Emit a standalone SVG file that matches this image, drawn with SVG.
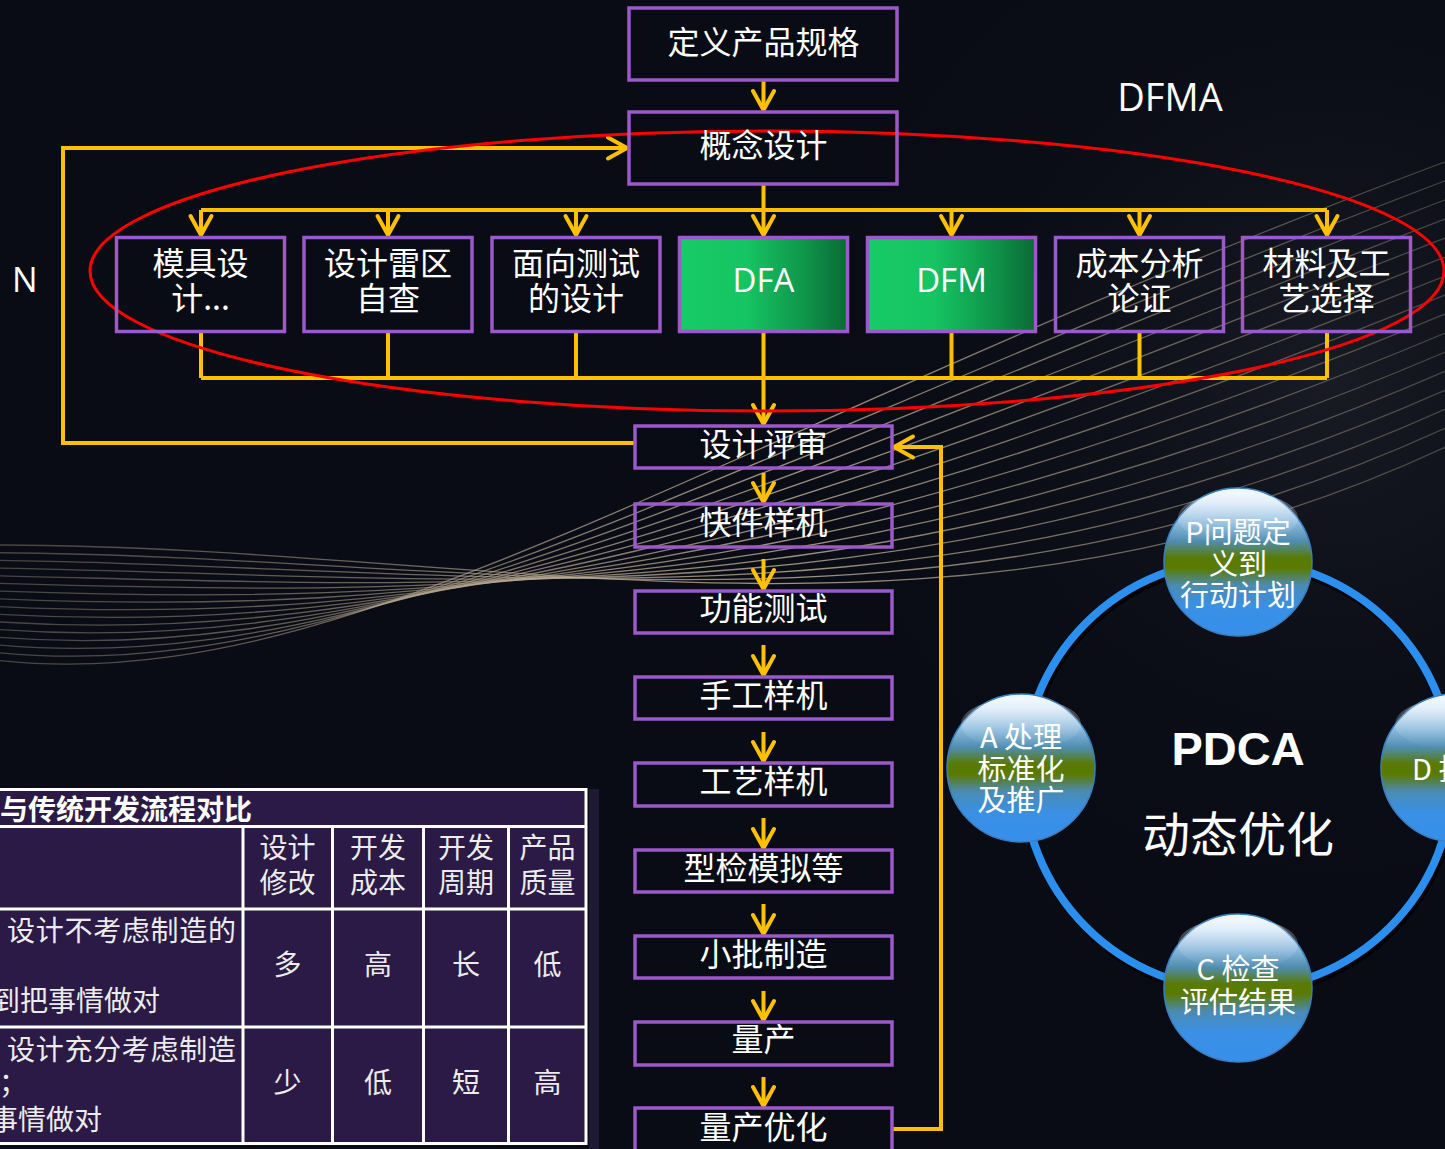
<svg xmlns="http://www.w3.org/2000/svg" width="1445" height="1149" viewBox="0 0 1445 1149">
  <defs>
    <style>
      .box { fill: none; stroke: #9b59c9; stroke-width: 3.5; }
      .t { font-family: 'Noto Sans CJK SC', sans-serif; font-size: 32px; fill: #ffffff; text-anchor: middle; }
      .lat { font-family: 'Open Sans', 'Noto Sans', sans-serif; font-size: 33px; fill: #ffffff; text-anchor: middle; }
      .c { fill: none; stroke: #ffc000; stroke-width: 4; stroke-linejoin: miter; }
      .ca { fill: none; stroke: #ffc000; stroke-width: 4; marker-end: url(#arr); }
      .wave { fill: none; stroke: url(#waveStroke); stroke-width: 1.3; }
      .tb { font-family: 'Noto Sans CJK SC', sans-serif; font-size: 28px; fill: #ececec; }
      .tbc { font-family: 'Noto Sans CJK SC', sans-serif; font-size: 28px; fill: #ececec; text-anchor: middle; }
      .grid { stroke: #ffffff; stroke-width: 3; fill: none; }
      .ball { stroke: #3a80c0; stroke-width: 1.5; fill: url(#ballFill); }
      .gloss { fill: url(#glossFill); }
      .bt { font-family: 'Noto Sans CJK SC', sans-serif; font-size: 29px; fill: #ffffff; text-anchor: middle; }
    </style>
    <marker id="arr" markerUnits="userSpaceOnUse" viewBox="-24 -14 28 28" markerWidth="28" markerHeight="28" refX="0" refY="0" orient="auto">
      <path d="M -19 -10.5 L 0 0 L -19 10.5" fill="none" stroke="#ffc000" stroke-width="4" stroke-linejoin="round" stroke-linecap="round"/>
    </marker>
    <linearGradient id="greenFill" x1="0" y1="0" x2="1" y2="0">
      <stop offset="0" stop-color="#17cb66"/>
      <stop offset="0.4" stop-color="#16c462"/>
      <stop offset="0.75" stop-color="#0f944a"/>
      <stop offset="1" stop-color="#0a6a34"/>
    </linearGradient>
    <linearGradient id="waveStroke" gradientUnits="userSpaceOnUse" x1="0" y1="0" x2="1445" y2="0">
      <stop offset="0" stop-color="#b8a890" stop-opacity="0.35"/>
      <stop offset="0.3" stop-color="#b8a890" stop-opacity="0.6"/>
      <stop offset="0.55" stop-color="#c4b49c" stop-opacity="0.8"/>
      <stop offset="0.8" stop-color="#b8a890" stop-opacity="0.55"/>
      <stop offset="1" stop-color="#b8a890" stop-opacity="0.3"/>
    </linearGradient>
    <radialGradient id="bgGlow" cx="1330" cy="380" r="520" gradientUnits="userSpaceOnUse">
      <stop offset="0" stop-color="#1a1d26" stop-opacity="0.9"/>
      <stop offset="1" stop-color="#090c15" stop-opacity="0"/>
    </radialGradient>
    <linearGradient id="ballFill" x1="0" y1="0" x2="0" y2="1">
      <stop offset="0" stop-color="#f4f9ff"/>
      <stop offset="0.1" stop-color="#d6e8f8"/>
      <stop offset="0.24" stop-color="#8ab9dc"/>
      <stop offset="0.36" stop-color="#4f8db0"/>
      <stop offset="0.47" stop-color="#587a08"/>
      <stop offset="0.54" stop-color="#5a7a00"/>
      <stop offset="0.66" stop-color="#4b8bb4"/>
      <stop offset="0.8" stop-color="#3990e4"/>
      <stop offset="1" stop-color="#388fea"/>
    </linearGradient>
    <linearGradient id="glossFill" x1="0" y1="0" x2="0" y2="1">
      <stop offset="0" stop-color="#ffffff" stop-opacity="0.35"/>
      <stop offset="1" stop-color="#ffffff" stop-opacity="0"/>
    </linearGradient>
  </defs>

  <!-- backdrop -->
  <rect x="0" y="0" width="1445" height="1149" fill="#090c15"/>
  <rect x="0" y="0" width="1445" height="1149" fill="url(#bgGlow)"/>

  <!-- twisted ribbon of thin curves -->
  <g id="waves">
    <path class="wave" d="M -5 545 C 500 545 950 680 1450 445"/>
    <path class="wave" d="M -5 552.7 C 490 555.3 933.3 664 1450 426"/>
    <path class="wave" d="M -5 560.3 C 480 565.7 916.7 648 1450 407"/>
    <path class="wave" d="M -5 568 C 470 576 900 632 1450 388"/>
    <path class="wave" d="M -5 575.7 C 460 586.3 883.3 616 1450 369"/>
    <path class="wave" d="M -5 583.3 C 450 596.7 866.7 600 1450 350"/>
    <path class="wave" d="M -5 591 C 440 607 850 584 1450 331"/>
    <path class="wave" d="M -5 598.7 C 430 617.3 833.3 568 1450 312"/>
    <path class="wave" d="M -5 606.3 C 420 627.7 816.7 552 1450 293"/>
    <path class="wave" d="M -5 614 C 410 638 800 536 1450 274"/>
    <path class="wave" d="M -5 621.7 C 400 648.3 783.3 520 1450 255"/>
    <path class="wave" d="M -5 629.3 C 390 658.7 766.7 504 1450 236"/>
    <path class="wave" d="M -5 637 C 380 669 750 488 1450 217"/>
    <path class="wave" d="M -5 644.7 C 370 679.3 733.3 472 1450 198"/>
    <path class="wave" d="M -5 652.3 C 360 689.7 716.7 456 1450 179"/>
    <path class="wave" d="M -5 660 C 350 700 700 440 1450 160"/>
  </g>

  <!-- labels outside the flow -->
  <text x="12" y="292" font-family="'Open Sans', 'Noto Sans', sans-serif" font-size="34" fill="#ffffff">N</text>
  <text x="1170" y="111" font-family="'Open Sans', 'Noto Sans', sans-serif" font-size="38" fill="#ffffff" text-anchor="middle">DFMA</text>

  <!-- connectors -->
  <g id="connectors">
    <path class="ca" d="M 763.5 80 V 110"/>
    <path class="ca" d="M 763.5 184 V 235"/>
    <path class="c" d="M 201 210 H 1327"/>
    <path class="ca" d="M 201 210 V 235"/>
    <path class="ca" d="M 388 210 V 235"/>
    <path class="ca" d="M 576 210 V 235"/>
    <path class="ca" d="M 951.5 210 V 235"/>
    <path class="ca" d="M 1139.5 210 V 235"/>
    <path class="ca" d="M 1327 210 V 235"/>
    <path class="c" d="M 201 332 V 378 M 388 332 V 378 M 576 332 V 378 M 951.5 332 V 378 M 1139.5 332 V 378 M 1327 332 V 378"/>
    <path class="c" d="M 201 378 H 1327"/>
    <path class="ca" d="M 763.5 332 V 424"/>
    <path class="ca" d="M 635 443 H 63 V 148 H 627"/>
    <path class="ca" d="M 892 1129 H 941 V 447 H 894"/>
    <path class="ca" d="M 763.5 473 V 502"/>
    <path class="ca" d="M 763.5 559 V 589"/>
    <path class="ca" d="M 763.5 645 V 675"/>
    <path class="ca" d="M 763.5 732 V 761"/>
    <path class="ca" d="M 763.5 818 V 848"/>
    <path class="ca" d="M 763.5 904 V 934"/>
    <path class="ca" d="M 763.5 991 V 1020"/>
    <path class="ca" d="M 763.5 1077 V 1106"/>
  </g>

  <!-- red boundary of the DFMA group -->
  <ellipse id="dfma-ring" cx="767" cy="271" rx="677" ry="140" fill="none" stroke="#ff0000" stroke-width="3"/>

  <!-- main flow -->
  <g id="n-spec">
    <rect class="box" x="629" y="8" width="268" height="72"/>
    <text class="t" x="763.5" y="54">定义产品规格</text>
  </g>
  <g id="n-concept">
    <rect class="box" x="629" y="112" width="268" height="72"/>
    <text class="t" x="763.5" y="157">概念设计</text>
  </g>

  <g id="n-mold">
    <rect class="box" x="116.5" y="237.5" width="168" height="94"/>
    <text class="t" x="200.5" y="275">模具设</text>
    <text class="t" x="200.5" y="310">计...</text>
  </g>
  <g id="n-risk">
    <rect class="box" x="304" y="237.5" width="168" height="94"/>
    <text class="t" x="388" y="275">设计雷区</text>
    <text class="t" x="388" y="310">自查</text>
  </g>
  <g id="n-dft">
    <rect class="box" x="492" y="237.5" width="168" height="94"/>
    <text class="t" x="576" y="275">面向测试</text>
    <text class="t" x="576" y="310">的设计</text>
  </g>
  <g id="n-dfa">
    <rect class="box" x="679.5" y="237.5" width="168" height="94" style="fill:url(#greenFill)"/>
    <text class="lat" x="763.5" y="292">DFA</text>
  </g>
  <g id="n-dfm">
    <rect class="box" x="867.5" y="237.5" width="168" height="94" style="fill:url(#greenFill)"/>
    <text class="lat" x="951.5" y="292">DFM</text>
  </g>
  <g id="n-cost">
    <rect class="box" x="1055.5" y="237.5" width="168" height="94"/>
    <text class="t" x="1139.5" y="275">成本分析</text>
    <text class="t" x="1139.5" y="310">论证</text>
  </g>
  <g id="n-material">
    <rect class="box" x="1242.5" y="237.5" width="168" height="94"/>
    <text class="t" x="1326.5" y="275">材料及工</text>
    <text class="t" x="1326.5" y="310">艺选择</text>
  </g>

  <g id="n-review">
    <rect class="box" x="635" y="426" width="257" height="42"/>
    <text class="t" x="763.5" y="456">设计评审</text>
  </g>
  <g id="n-quick">
    <rect class="box" x="635" y="504" width="257" height="43"/>
    <text class="t" x="763.5" y="534">快件样机</text>
  </g>
  <g id="n-func">
    <rect class="box" x="635" y="591" width="257" height="42"/>
    <text class="t" x="763.5" y="620">功能测试</text>
  </g>
  <g id="n-hand">
    <rect class="box" x="635" y="677" width="257" height="42"/>
    <text class="t" x="763.5" y="707">手工样机</text>
  </g>
  <g id="n-process">
    <rect class="box" x="635" y="763" width="257" height="43"/>
    <text class="t" x="763.5" y="793">工艺样机</text>
  </g>
  <g id="n-type">
    <rect class="box" x="635" y="850" width="257" height="42"/>
    <text class="t" x="763.5" y="880">型检模拟等</text>
  </g>
  <g id="n-batch">
    <rect class="box" x="635" y="936" width="257" height="42"/>
    <text class="t" x="763.5" y="966">小批制造</text>
  </g>
  <g id="n-mass">
    <rect class="box" x="635" y="1022" width="257" height="43"/>
    <text class="t" x="763.5" y="1051">量产</text>
  </g>
  <g id="n-optimize">
    <rect class="box" x="635" y="1108" width="257" height="50"/>
    <text class="t" x="763.5" y="1139">量产优化</text>
  </g>

  <!-- comparison table -->
  <g id="comparison-table">
    <rect x="589" y="789" width="10" height="360" fill="#1f1a33"/>
    <rect x="-5" y="788" width="592" height="356" fill="#2a1a45"/>
    <path class="grid" d="M -5 789.5 H 587 M -5 826.5 H 587 M -5 909 H 587 M -5 1027 H 587 M -5 1143.5 H 587"/>
    <path class="grid" d="M 586 788 V 1145 M 243 826 V 1144 M 332.5 826 V 1144 M 423.5 826 V 1144 M 508.5 826 V 1144"/>
    <text class="tb" x="0" y="820" font-weight="bold" style="fill:#ffffff">与传统开发流程对比</text>
    <text class="tbc" x="287.5" y="858">设计</text>
    <text class="tbc" x="287.5" y="893">修改</text>
    <text class="tbc" x="378" y="858">开发</text>
    <text class="tbc" x="378" y="893">成本</text>
    <text class="tbc" x="466" y="858">开发</text>
    <text class="tbc" x="466" y="893">周期</text>
    <text class="tbc" x="547.5" y="858">产品</text>
    <text class="tbc" x="547.5" y="893">质量</text>
    <text class="tb" x="7" y="941" textLength="229">设计不考虑制造的</text>
    <text class="tb" x="-8" y="1011">到把事情做对</text>
    <text class="tbc" x="287.5" y="975">多</text>
    <text class="tbc" x="378" y="975">高</text>
    <text class="tbc" x="466" y="975">长</text>
    <text class="tbc" x="547.5" y="975">低</text>
    <text class="tb" x="7" y="1060" textLength="229">设计充分考虑制造</text>
    <text class="tb" x="-1" y="1093">；</text>
    <text class="tb" x="-10" y="1130">事情做对</text>
    <text class="tbc" x="287.5" y="1093">少</text>
    <text class="tbc" x="378" y="1093">低</text>
    <text class="tbc" x="466" y="1093">短</text>
    <text class="tbc" x="547.5" y="1093">高</text>
  </g>

  <!-- PDCA cycle -->
  <g id="pdca-ring">
    <circle cx="1240" cy="779" r="215" fill="none" stroke="#000000" stroke-opacity="0.75" stroke-width="8"/>
    <circle cx="1238" cy="775" r="215" fill="none" stroke="#2b8ff0" stroke-width="8"/>
    <text x="1238" y="765" font-family="'Liberation Sans', Arial, sans-serif" font-size="47" font-weight="bold" fill="#ffffff" text-anchor="middle">PDCA</text>
    <text x="1238" y="852" font-family="'Noto Sans CJK SC', sans-serif" font-size="48" fill="#ffffff" text-anchor="middle">动态优化</text>
  </g>
  <g id="pdca-p">
    <circle class="ball" cx="1238" cy="562" r="74"/>
    <ellipse class="gloss" cx="1238" cy="518" rx="60" ry="26"/>
    <text class="bt" x="1238" y="543">P问题定</text>
    <text class="bt" x="1238" y="575">义到</text>
    <text class="bt" x="1238" y="606">行动计划</text>
  </g>
  <g id="pdca-a">
    <circle class="ball" cx="1021" cy="768" r="74"/>
    <ellipse class="gloss" cx="1021" cy="724" rx="60" ry="26"/>
    <text class="bt" x="1021" y="748">A 处理</text>
    <text class="bt" x="1021" y="780">标准化</text>
    <text class="bt" x="1021" y="811">及推广</text>
  </g>
  <g id="pdca-c">
    <circle class="ball" cx="1238" cy="988" r="74"/>
    <ellipse class="gloss" cx="1238" cy="944" rx="60" ry="26"/>
    <text class="bt" x="1238" y="980">C 检查</text>
    <text class="bt" x="1238" y="1013">评估结果</text>
  </g>
  <g id="pdca-d">
    <circle class="ball" cx="1455" cy="768" r="74"/>
    <ellipse class="gloss" cx="1455" cy="724" rx="60" ry="26"/>
    <text class="bt" x="1412" y="780" style="text-anchor:start">D 执行</text>
  </g>
</svg>
